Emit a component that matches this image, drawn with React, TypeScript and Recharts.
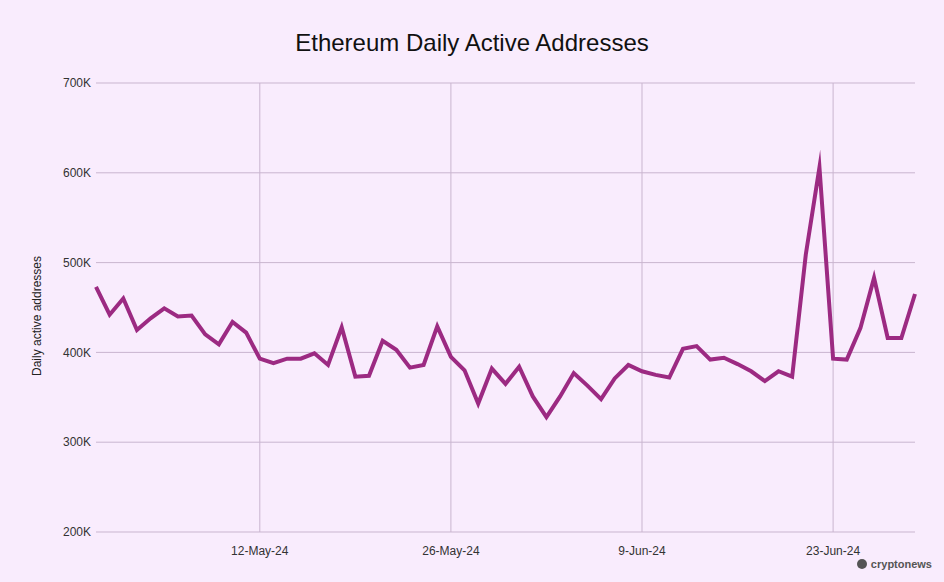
import { LineChart, Line, XAxis, YAxis, CartesianGrid } from "recharts";

const dates = [
  "30-Apr-24",
  "1-May-24", "2-May-24", "3-May-24", "4-May-24", "5-May-24", "6-May-24", "7-May-24",
  "8-May-24", "9-May-24", "10-May-24", "11-May-24", "12-May-24", "13-May-24", "14-May-24",
  "15-May-24", "16-May-24", "17-May-24", "18-May-24", "19-May-24", "20-May-24", "21-May-24",
  "22-May-24", "23-May-24", "24-May-24", "25-May-24", "26-May-24", "27-May-24", "28-May-24",
  "29-May-24", "30-May-24", "31-May-24",
  "1-Jun-24", "2-Jun-24", "3-Jun-24", "4-Jun-24", "5-Jun-24", "6-Jun-24", "7-Jun-24",
  "8-Jun-24", "9-Jun-24", "10-Jun-24", "11-Jun-24", "12-Jun-24", "13-Jun-24", "14-Jun-24",
  "15-Jun-24", "16-Jun-24", "17-Jun-24", "18-Jun-24", "19-Jun-24", "20-Jun-24", "21-Jun-24",
  "22-Jun-24", "23-Jun-24", "24-Jun-24", "25-Jun-24", "26-Jun-24", "27-Jun-24", "28-Jun-24",
  "29-Jun-24",
];

const activeAddresses = [
  473000,
  442000, 460000, 425000, 438000, 449000, 440000, 441000,
  420000, 409000, 434000, 422000, 393000, 388000, 393000,
  393000, 399000, 386000, 428000, 373000, 374000, 413000,
  403000, 383000, 386000, 429000, 395000, 380000, 343000,
  382000, 365000, 384000,
  351000, 328000, 351000, 377000, 363000, 348000, 371000,
  386000, 379000, 375000, 372000, 404000, 407000, 392000,
  394000, 387000, 379000, 368000, 379000, 373000, 509000,
  606000, 393000, 392000, 427000, 483000, 416000, 416000,
  465000,
];

const xTicks = ["12-May-24", "26-May-24", "9-Jun-24", "23-Jun-24"];
const yTicks = [200000, 300000, 400000, 500000, 600000, 700000];

const data = dates.map((d, i) => ({ date: d, addresses: activeAddresses[i] }));

const BG = "#f9ecfd";
const LINE = "#9c2a82";
const GRID = "#c9b5cf";

// only draw vertical grid lines at the date ticks, not at the plot edges
const verticalAtTicks = (props: any) => {
  const scale = props.xAxis?.scale;
  if (!scale) return [];
  const fn = typeof scale === "function" ? scale : scale.map?.bind(scale);
  return xTicks.map((t) => fn(t)).filter((v: any) => typeof v === "number");
};

export default function App() {
  return (
    <div
      style={{
        position: "absolute",
        top: 0,
        left: 0,
        width: 944,
        height: 582,
        background: BG,
        fontFamily: "'Liberation Sans', Arial, sans-serif",
        overflow: "hidden",
      }}
    >
      <div
        style={{
          position: "absolute",
          top: 29,
          left: 0,
          width: 944,
          textAlign: "center",
          fontSize: 24,
          color: "#111",
        }}
      >
        Ethereum Daily Active Addresses
      </div>
      <div
        style={{
          position: "absolute",
          left: 37,
          top: 316,
          transform: "translate(-50%, -50%) rotate(-90deg)",
          whiteSpace: "nowrap",
          fontSize: 12,
          color: "#222",
        }}
      >
        Daily active addresses
      </div>
      <LineChart
        width={944}
        height={582}
        data={data}
        margin={{ top: 83, right: 29, bottom: 20, left: 0 }}
      >
        <CartesianGrid
          stroke={GRID}
          strokeWidth={1}
          verticalCoordinatesGenerator={verticalAtTicks}
        />
        <XAxis
          dataKey="date"
          ticks={xTicks}
          interval={0}
          axisLine={false}
          tickLine={false}
          height={30}
          tickMargin={8}
          tick={{ fill: "#333", fontSize: 12 }}
        />
        <YAxis
          domain={[200000, 700000]}
          ticks={yTicks}
          width={96}
          axisLine={false}
          tickLine={false}
          tickSize={3}
          tickMargin={2}
          tick={{ fill: "#333", fontSize: 12 }}
          tickFormatter={(v: number) => `${v / 1000}K`}
        />
        <Line
          type="linear"
          dataKey="addresses"
          stroke={LINE}
          strokeWidth={4}
          strokeLinejoin="miter"
          strokeMiterlimit={12}
          dot={false}
          isAnimationActive={false}
        />
      </LineChart>
      <div
        style={{
          position: "absolute",
          right: 12,
          top: 558,
          display: "flex",
          alignItems: "center",
          gap: 4,
          fontSize: 11,
          fontWeight: "bold",
          color: "#555",
        }}
      >
        <span
          style={{
            display: "inline-block",
            width: 10,
            height: 10,
            borderRadius: 5,
            background: "#555",
          }}
        />
        cryptonews
      </div>
    </div>
  );
}
